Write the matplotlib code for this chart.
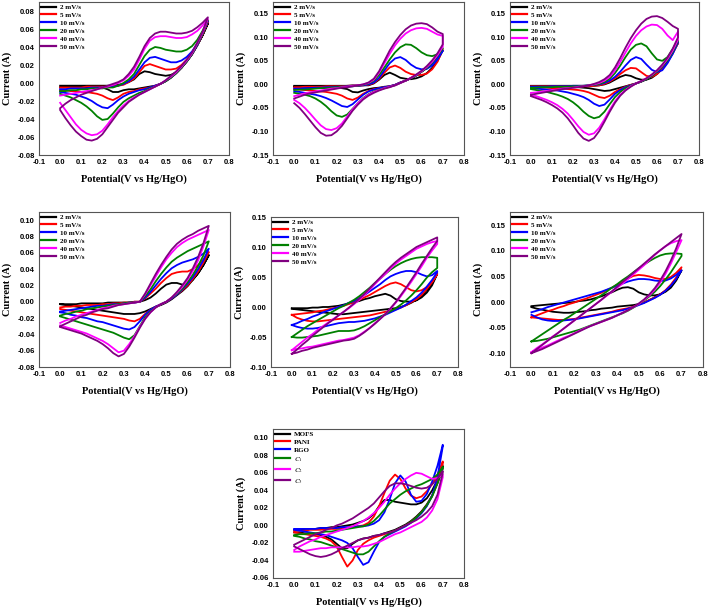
import matplotlib
matplotlib.use("Agg")
import matplotlib.pyplot as plt
from matplotlib.ticker import FormatStrFormatter

plt.rcParams['mathtext.fontset'] = 'stix'

# potential grid (V vs Hg/HgO), forward scan; reverse scan uses same grid
E = [0.000, 0.025, 0.050, 0.075, 0.100, 0.125, 0.150, 0.175, 0.200, 0.225,
     0.250, 0.275, 0.300, 0.325, 0.350, 0.375, 0.400, 0.425, 0.450, 0.475,
     0.500, 0.525, 0.550, 0.575, 0.600, 0.625, 0.650, 0.675, 0.700]

rate_labels = ['2 mV/s', '5 mV/s', '10 mV/s', '20 mV/s', '40 mV/s', '50 mV/s']
comp_labels = ['MOFS', 'PANI', 'RGO', r'$C_1$', r'$C_2$', r'$C_3$']
colors = ['#000000', '#ff0000', '#0000ff', '#008000', '#ff00ff', '#800080']

# ---------------- panel a ----------------
a1_up = [-0.003,-0.003,-0.003,-0.003,-0.003,-0.003,-0.003,-0.003,-0.003,-0.003,-0.003,-0.002,-0.001,0.001,0.004,0.010,0.013,0.012,0.010,0.009,0.008,0.009,0.012,0.017,0.024,0.032,0.042,0.053,0.066]
a1_dn = [-0.005,-0.005,-0.005,-0.005,-0.005,-0.005,-0.005,-0.005,-0.005,-0.007,-0.010,-0.010,-0.008,-0.007,-0.007,-0.006,-0.005,-0.004,-0.003,-0.001,0.002,0.006,0.011,0.017,0.024,0.032,0.042,0.053,0.066]
a2_up = [-0.005,-0.005,-0.005,-0.005,-0.005,-0.004,-0.004,-0.004,-0.004,-0.004,-0.003,-0.003,-0.002,0.001,0.005,0.012,0.019,0.021,0.019,0.017,0.015,0.015,0.016,0.020,0.026,0.033,0.043,0.055,0.068]
a2_dn = [-0.008,-0.008,-0.009,-0.009,-0.010,-0.010,-0.011,-0.012,-0.014,-0.017,-0.019,-0.016,-0.012,-0.010,-0.009,-0.007,-0.006,-0.005,-0.003,-0.001,0.002,0.006,0.011,0.017,0.024,0.032,0.042,0.054,0.068]
a3_up = [-0.007,-0.007,-0.006,-0.006,-0.006,-0.006,-0.005,-0.005,-0.005,-0.004,-0.004,-0.003,-0.001,0.002,0.007,0.015,0.023,0.028,0.029,0.027,0.025,0.023,0.023,0.025,0.029,0.035,0.044,0.056,0.069]
a3_dn = [-0.010,-0.011,-0.012,-0.013,-0.015,-0.017,-0.020,-0.024,-0.027,-0.028,-0.024,-0.019,-0.015,-0.012,-0.010,-0.008,-0.007,-0.005,-0.003,-0.001,0.002,0.006,0.011,0.017,0.024,0.032,0.042,0.055,0.069]
a4_up = [-0.009,-0.009,-0.008,-0.008,-0.007,-0.007,-0.006,-0.006,-0.006,-0.005,-0.005,-0.003,0.000,0.004,0.010,0.020,0.030,0.037,0.040,0.039,0.037,0.036,0.035,0.035,0.037,0.041,0.048,0.058,0.070]
a4_dn = [-0.012,-0.014,-0.016,-0.019,-0.022,-0.026,-0.031,-0.037,-0.041,-0.040,-0.034,-0.027,-0.021,-0.017,-0.014,-0.011,-0.009,-0.006,-0.004,-0.001,0.002,0.006,0.011,0.017,0.024,0.032,0.043,0.055,0.070]
a5_up = [-0.014,-0.013,-0.012,-0.011,-0.010,-0.009,-0.008,-0.007,-0.005,-0.004,-0.002,0.000,0.003,0.008,0.015,0.026,0.038,0.047,0.051,0.052,0.052,0.051,0.050,0.050,0.051,0.054,0.058,0.064,0.071]
a5_dn = [-0.022,-0.030,-0.038,-0.046,-0.052,-0.056,-0.058,-0.057,-0.053,-0.046,-0.038,-0.031,-0.025,-0.020,-0.016,-0.013,-0.010,-0.007,-0.004,-0.001,0.003,0.007,0.012,0.018,0.025,0.033,0.044,0.056,0.071]
a6_up = [-0.028,-0.023,-0.019,-0.016,-0.013,-0.011,-0.009,-0.007,-0.005,-0.003,-0.001,0.001,0.004,0.010,0.018,0.029,0.041,0.050,0.055,0.057,0.057,0.056,0.055,0.055,0.056,0.058,0.062,0.067,0.073]
a6_dn = [-0.030,-0.039,-0.047,-0.054,-0.059,-0.063,-0.064,-0.062,-0.057,-0.049,-0.041,-0.033,-0.027,-0.021,-0.017,-0.013,-0.010,-0.007,-0.004,-0.001,0.003,0.008,0.013,0.019,0.026,0.034,0.045,0.057,0.073]

# ---------------- panel b ----------------
b1_up = [-0.003,-0.003,-0.003,-0.003,-0.003,-0.003,-0.003,-0.003,-0.003,-0.003,-0.003,-0.002,-0.002,-0.002,-0.002,0.002,0.010,0.020,0.025,0.020,0.014,0.012,0.011,0.013,0.017,0.024,0.035,0.050,0.072]
b1_dn = [-0.005,-0.005,-0.005,-0.006,-0.006,-0.006,-0.006,-0.007,-0.007,-0.008,-0.010,-0.016,-0.017,-0.013,-0.010,-0.008,-0.007,-0.005,-0.004,-0.001,0.004,0.008,0.013,0.019,0.027,0.035,0.045,0.057,0.072]
b2_up = [-0.006,-0.006,-0.005,-0.005,-0.005,-0.005,-0.004,-0.004,-0.004,-0.004,-0.003,-0.003,-0.003,-0.002,-0.001,0.003,0.012,0.025,0.036,0.040,0.035,0.027,0.022,0.020,0.020,0.023,0.032,0.048,0.074]
b2_dn = [-0.010,-0.011,-0.012,-0.013,-0.014,-0.015,-0.016,-0.018,-0.020,-0.024,-0.030,-0.033,-0.028,-0.020,-0.014,-0.010,-0.008,-0.006,-0.004,-0.001,0.004,0.008,0.013,0.019,0.027,0.035,0.045,0.058,0.074]
b3_up = [-0.009,-0.009,-0.008,-0.008,-0.007,-0.007,-0.006,-0.006,-0.005,-0.005,-0.004,-0.004,-0.003,-0.002,0.000,0.004,0.014,0.030,0.045,0.055,0.058,0.052,0.042,0.035,0.032,0.033,0.040,0.053,0.072]
b3_dn = [-0.015,-0.016,-0.018,-0.020,-0.022,-0.025,-0.029,-0.034,-0.040,-0.046,-0.048,-0.042,-0.032,-0.022,-0.015,-0.011,-0.008,-0.006,-0.004,-0.001,0.004,0.008,0.013,0.019,0.027,0.035,0.045,0.057,0.072]
b4_up = [-0.012,-0.011,-0.011,-0.010,-0.009,-0.008,-0.008,-0.007,-0.006,-0.005,-0.005,-0.004,-0.003,-0.001,0.002,0.008,0.020,0.036,0.053,0.068,0.079,0.085,0.084,0.077,0.068,0.062,0.060,0.064,0.077]
b4_dn = [-0.018,-0.020,-0.022,-0.025,-0.030,-0.037,-0.046,-0.057,-0.066,-0.069,-0.064,-0.052,-0.040,-0.029,-0.021,-0.015,-0.011,-0.008,-0.005,-0.002,0.003,0.008,0.013,0.019,0.027,0.035,0.046,0.060,0.077]
b5_up = [-0.025,-0.022,-0.019,-0.017,-0.015,-0.013,-0.011,-0.009,-0.008,-0.006,-0.005,-0.003,-0.002,0.000,0.003,0.010,0.025,0.045,0.065,0.083,0.097,0.108,0.115,0.119,0.120,0.118,0.112,0.106,0.103]
b5_dn = [-0.033,-0.040,-0.050,-0.062,-0.075,-0.087,-0.095,-0.097,-0.093,-0.083,-0.068,-0.053,-0.040,-0.030,-0.022,-0.016,-0.012,-0.008,-0.005,-0.002,0.003,0.008,0.014,0.020,0.028,0.037,0.048,0.062,0.080]
b6_up = [-0.030,-0.026,-0.022,-0.019,-0.017,-0.015,-0.013,-0.011,-0.009,-0.007,-0.006,-0.004,-0.002,0.000,0.004,0.012,0.028,0.050,0.072,0.090,0.105,0.117,0.125,0.129,0.130,0.128,0.121,0.112,0.107]
b6_dn = [-0.040,-0.050,-0.063,-0.077,-0.091,-0.103,-0.109,-0.108,-0.100,-0.088,-0.072,-0.056,-0.043,-0.032,-0.024,-0.018,-0.013,-0.009,-0.006,-0.002,0.003,0.008,0.014,0.021,0.029,0.039,0.051,0.066,0.085]

# ---------------- panel c ----------------
c1_up = [-0.003,-0.003,-0.003,-0.003,-0.003,-0.003,-0.003,-0.003,-0.003,-0.003,-0.003,-0.003,-0.003,-0.002,0.000,0.004,0.010,0.016,0.020,0.018,0.013,0.010,0.010,0.014,0.022,0.033,0.048,0.066,0.088]
c1_dn = [-0.004,-0.004,-0.004,-0.004,-0.005,-0.005,-0.005,-0.005,-0.006,-0.006,-0.007,-0.008,-0.010,-0.012,-0.014,-0.013,-0.010,-0.007,-0.004,-0.001,0.002,0.006,0.011,0.018,0.027,0.038,0.051,0.068,0.088]
c2_up = [-0.004,-0.004,-0.004,-0.004,-0.004,-0.004,-0.004,-0.004,-0.004,-0.004,-0.004,-0.004,-0.003,-0.002,0.001,0.006,0.013,0.022,0.030,0.035,0.034,0.026,0.018,0.016,0.022,0.033,0.048,0.066,0.088]
c2_dn = [-0.006,-0.006,-0.007,-0.007,-0.008,-0.008,-0.009,-0.010,-0.011,-0.012,-0.014,-0.017,-0.022,-0.027,-0.029,-0.024,-0.016,-0.010,-0.005,-0.001,0.002,0.006,0.011,0.018,0.027,0.038,0.051,0.068,0.088]
c3_up = [-0.005,-0.005,-0.005,-0.005,-0.004,-0.004,-0.004,-0.004,-0.003,-0.003,-0.003,-0.002,-0.001,0.000,0.003,0.008,0.016,0.027,0.040,0.052,0.058,0.054,0.042,0.031,0.026,0.030,0.045,0.065,0.090]
c3_dn = [-0.008,-0.009,-0.010,-0.011,-0.012,-0.013,-0.015,-0.017,-0.020,-0.023,-0.027,-0.033,-0.041,-0.046,-0.043,-0.032,-0.020,-0.012,-0.006,-0.002,0.002,0.006,0.011,0.018,0.027,0.038,0.051,0.068,0.090]
c4_up = [-0.007,-0.007,-0.006,-0.006,-0.006,-0.005,-0.005,-0.005,-0.004,-0.004,-0.003,-0.002,-0.001,0.001,0.005,0.012,0.024,0.040,0.058,0.074,0.084,0.087,0.081,0.066,0.053,0.050,0.058,0.075,0.095]
c4_dn = [-0.010,-0.012,-0.014,-0.016,-0.019,-0.022,-0.026,-0.031,-0.038,-0.047,-0.058,-0.067,-0.072,-0.069,-0.058,-0.042,-0.027,-0.016,-0.008,-0.003,0.002,0.006,0.011,0.018,0.027,0.038,0.051,0.069,0.092]
c5_up = [-0.018,-0.017,-0.015,-0.014,-0.012,-0.011,-0.009,-0.008,-0.007,-0.005,-0.004,-0.002,0.000,0.003,0.008,0.016,0.030,0.048,0.068,0.087,0.103,0.115,0.123,0.127,0.126,0.118,0.104,0.094,0.112]
c5_dn = [-0.022,-0.025,-0.029,-0.033,-0.038,-0.044,-0.052,-0.062,-0.075,-0.089,-0.101,-0.107,-0.104,-0.092,-0.074,-0.054,-0.036,-0.022,-0.012,-0.004,0.002,0.007,0.013,0.020,0.029,0.040,0.054,0.072,0.095]
c6_up = [-0.022,-0.020,-0.018,-0.016,-0.014,-0.012,-0.010,-0.009,-0.007,-0.006,-0.004,-0.002,0.001,0.005,0.011,0.020,0.036,0.056,0.078,0.098,0.115,0.129,0.139,0.144,0.145,0.141,0.133,0.124,0.118]
c6_dn = [-0.025,-0.029,-0.033,-0.038,-0.044,-0.051,-0.060,-0.072,-0.087,-0.103,-0.115,-0.120,-0.114,-0.099,-0.079,-0.058,-0.039,-0.024,-0.013,-0.005,0.002,0.007,0.013,0.021,0.030,0.042,0.057,0.076,0.100]

# ---------------- panel d ----------------
d1_up = [-0.003,-0.003,-0.003,-0.003,-0.002,-0.002,-0.002,-0.002,-0.002,-0.001,-0.001,-0.001,-0.001,-0.001,0.000,0.000,0.002,0.005,0.010,0.016,0.021,0.023,0.023,0.021,0.022,0.027,0.035,0.045,0.057]
d1_dn = [-0.003,-0.004,-0.005,-0.006,-0.007,-0.008,-0.009,-0.010,-0.011,-0.012,-0.013,-0.014,-0.015,-0.015,-0.015,-0.014,-0.012,-0.009,-0.006,-0.004,-0.001,0.003,0.008,0.013,0.019,0.027,0.035,0.045,0.057]
d2_up = [-0.007,-0.006,-0.006,-0.005,-0.005,-0.004,-0.004,-0.004,-0.003,-0.003,-0.002,-0.002,-0.001,-0.001,0.000,0.000,0.004,0.010,0.016,0.023,0.029,0.034,0.036,0.037,0.037,0.040,0.045,0.052,0.061]
d2_dn = [-0.009,-0.010,-0.011,-0.012,-0.013,-0.014,-0.015,-0.016,-0.017,-0.018,-0.019,-0.020,-0.021,-0.023,-0.024,-0.021,-0.015,-0.010,-0.006,-0.003,0.000,0.004,0.009,0.014,0.020,0.028,0.037,0.048,0.061]
d3_up = [-0.012,-0.011,-0.010,-0.009,-0.008,-0.007,-0.006,-0.005,-0.005,-0.004,-0.003,-0.003,-0.002,-0.001,-0.001,0.000,0.005,0.012,0.020,0.028,0.035,0.041,0.045,0.048,0.050,0.052,0.055,0.059,0.065]
d3_dn = [-0.013,-0.014,-0.016,-0.017,-0.019,-0.020,-0.022,-0.024,-0.025,-0.027,-0.029,-0.031,-0.033,-0.034,-0.031,-0.024,-0.016,-0.010,-0.006,-0.003,0.000,0.004,0.009,0.015,0.022,0.030,0.040,0.051,0.065]
d4_up = [-0.017,-0.015,-0.014,-0.012,-0.011,-0.009,-0.008,-0.007,-0.006,-0.005,-0.004,-0.003,-0.002,-0.001,-0.001,0.000,0.007,0.015,0.025,0.034,0.042,0.049,0.054,0.058,0.062,0.065,0.068,0.071,0.074]
d4_dn = [-0.018,-0.020,-0.022,-0.024,-0.026,-0.028,-0.030,-0.032,-0.034,-0.036,-0.038,-0.041,-0.044,-0.046,-0.041,-0.030,-0.019,-0.012,-0.007,-0.003,0.000,0.005,0.010,0.016,0.024,0.033,0.044,0.057,0.074]
d5_up = [-0.026,-0.023,-0.021,-0.018,-0.016,-0.014,-0.012,-0.010,-0.008,-0.007,-0.005,-0.004,-0.003,-0.002,-0.001,0.000,0.009,0.020,0.031,0.042,0.052,0.060,0.067,0.072,0.076,0.079,0.082,0.085,0.088]
d5_dn = [-0.029,-0.031,-0.033,-0.035,-0.037,-0.039,-0.042,-0.045,-0.048,-0.052,-0.057,-0.062,-0.060,-0.052,-0.042,-0.031,-0.021,-0.013,-0.007,-0.003,0.000,0.005,0.011,0.018,0.027,0.038,0.051,0.068,0.088]
d6_up = [-0.030,-0.027,-0.024,-0.021,-0.018,-0.016,-0.013,-0.011,-0.009,-0.008,-0.006,-0.004,-0.003,-0.002,-0.001,0.000,0.010,0.022,0.034,0.045,0.055,0.064,0.071,0.076,0.080,0.083,0.087,0.090,0.093]
d6_dn = [-0.031,-0.033,-0.035,-0.037,-0.039,-0.042,-0.045,-0.048,-0.052,-0.057,-0.063,-0.067,-0.064,-0.055,-0.044,-0.032,-0.021,-0.013,-0.007,-0.003,0.000,0.005,0.012,0.020,0.029,0.041,0.055,0.072,0.093]

# ---------------- panel e ----------------
e1_up = [-0.002,-0.002,-0.002,-0.002,-0.001,-0.001,0.000,0.000,0.001,0.002,0.004,0.006,0.008,0.010,0.013,0.015,0.018,0.020,0.022,0.019,0.013,0.010,0.009,0.009,0.011,0.016,0.024,0.036,0.055]
e1_dn = [-0.003,-0.004,-0.005,-0.006,-0.007,-0.008,-0.009,-0.010,-0.011,-0.012,-0.012,-0.011,-0.010,-0.009,-0.008,-0.007,-0.006,-0.005,-0.004,-0.003,-0.002,0.000,0.003,0.007,0.012,0.019,0.029,0.040,0.055]
e2_up = [-0.013,-0.012,-0.011,-0.010,-0.009,-0.007,-0.006,-0.004,-0.002,0.000,0.002,0.005,0.008,0.012,0.016,0.020,0.025,0.030,0.035,0.039,0.041,0.038,0.033,0.028,0.026,0.028,0.033,0.042,0.055]
e2_dn = [-0.013,-0.018,-0.021,-0.023,-0.024,-0.024,-0.023,-0.022,-0.021,-0.020,-0.019,-0.018,-0.017,-0.016,-0.015,-0.014,-0.012,-0.010,-0.008,-0.006,-0.004,-0.001,0.003,0.008,0.013,0.020,0.030,0.041,0.055]
e3_up = [-0.030,-0.027,-0.023,-0.020,-0.016,-0.013,-0.009,-0.006,-0.003,0.000,0.003,0.007,0.010,0.015,0.020,0.026,0.032,0.038,0.045,0.051,0.055,0.058,0.060,0.060,0.058,0.054,0.051,0.053,0.060]
e3_dn = [-0.030,-0.033,-0.035,-0.036,-0.036,-0.035,-0.033,-0.031,-0.029,-0.027,-0.026,-0.025,-0.025,-0.024,-0.023,-0.021,-0.019,-0.016,-0.013,-0.009,-0.005,-0.001,0.004,0.010,0.016,0.024,0.034,0.045,0.058]
e4_up = [-0.050,-0.044,-0.038,-0.032,-0.027,-0.022,-0.017,-0.012,-0.007,-0.002,0.002,0.007,0.012,0.018,0.025,0.032,0.040,0.047,0.055,0.062,0.068,0.073,0.077,0.080,0.082,0.083,0.083,0.083,0.082]
e4_dn = [-0.050,-0.051,-0.051,-0.050,-0.049,-0.048,-0.046,-0.044,-0.042,-0.040,-0.040,-0.040,-0.039,-0.036,-0.032,-0.027,-0.022,-0.017,-0.012,-0.007,-0.002,0.004,0.011,0.019,0.028,0.038,0.049,0.058,0.065]
e5_up = [-0.072,-0.065,-0.058,-0.051,-0.045,-0.038,-0.032,-0.026,-0.020,-0.014,-0.008,-0.002,0.005,0.012,0.020,0.029,0.038,0.047,0.055,0.064,0.072,0.079,0.085,0.091,0.097,0.101,0.105,0.108,0.110]
e5_dn = [-0.072,-0.070,-0.069,-0.067,-0.066,-0.064,-0.062,-0.060,-0.058,-0.056,-0.055,-0.053,-0.051,-0.047,-0.041,-0.035,-0.027,-0.020,-0.012,-0.003,0.007,0.018,0.030,0.042,0.055,0.068,0.082,0.094,0.105]
e6_up = [-0.078,-0.071,-0.063,-0.056,-0.048,-0.041,-0.034,-0.027,-0.021,-0.014,-0.008,-0.001,0.006,0.014,0.022,0.031,0.040,0.049,0.058,0.067,0.075,0.082,0.088,0.094,0.100,0.104,0.108,0.112,0.116]
e6_dn = [-0.078,-0.076,-0.073,-0.071,-0.068,-0.066,-0.064,-0.062,-0.060,-0.058,-0.056,-0.055,-0.053,-0.048,-0.042,-0.035,-0.028,-0.020,-0.012,-0.002,0.008,0.020,0.032,0.045,0.058,0.072,0.085,0.098,0.110]

# ---------------- panel f ----------------
f1_up = [-0.008,-0.007,-0.006,-0.005,-0.004,-0.003,-0.002,-0.001,0.000,0.002,0.003,0.005,0.008,0.011,0.015,0.019,0.024,0.028,0.029,0.026,0.019,0.015,0.013,0.013,0.015,0.020,0.028,0.042,0.062]
f1_dn = [-0.010,-0.013,-0.015,-0.017,-0.019,-0.020,-0.021,-0.021,-0.020,-0.019,-0.018,-0.016,-0.015,-0.013,-0.012,-0.011,-0.009,-0.008,-0.007,-0.006,-0.004,-0.001,0.004,0.009,0.015,0.022,0.032,0.045,0.062]
f2_up = [-0.030,-0.026,-0.022,-0.018,-0.015,-0.011,-0.008,-0.004,-0.001,0.003,0.006,0.010,0.014,0.018,0.023,0.028,0.034,0.040,0.046,0.051,0.053,0.052,0.050,0.047,0.045,0.045,0.049,0.057,0.068]
f2_dn = [-0.030,-0.031,-0.032,-0.033,-0.034,-0.035,-0.035,-0.034,-0.033,-0.031,-0.029,-0.027,-0.025,-0.023,-0.021,-0.019,-0.016,-0.014,-0.012,-0.009,-0.005,-0.001,0.004,0.009,0.015,0.023,0.034,0.048,0.068]
f3_up = [-0.020,-0.017,-0.014,-0.010,-0.007,-0.004,-0.001,0.002,0.005,0.008,0.011,0.014,0.017,0.020,0.024,0.028,0.032,0.036,0.040,0.043,0.045,0.045,0.044,0.042,0.041,0.042,0.046,0.053,0.062]
f3_dn = [-0.025,-0.030,-0.034,-0.036,-0.037,-0.037,-0.036,-0.035,-0.034,-0.032,-0.030,-0.028,-0.026,-0.024,-0.022,-0.020,-0.018,-0.016,-0.013,-0.010,-0.006,-0.002,0.003,0.008,0.014,0.022,0.032,0.045,0.062]
f4_up = [-0.077,-0.070,-0.063,-0.056,-0.049,-0.042,-0.035,-0.029,-0.022,-0.015,-0.008,-0.001,0.006,0.013,0.020,0.028,0.035,0.043,0.050,0.058,0.066,0.073,0.080,0.086,0.091,0.094,0.095,0.095,0.094]
f4_dn = [-0.077,-0.076,-0.074,-0.072,-0.069,-0.066,-0.063,-0.060,-0.057,-0.054,-0.050,-0.046,-0.042,-0.038,-0.034,-0.030,-0.026,-0.022,-0.017,-0.011,-0.004,0.003,0.011,0.020,0.031,0.044,0.058,0.074,0.090]
f5_up = [-0.098,-0.090,-0.083,-0.075,-0.067,-0.060,-0.052,-0.044,-0.036,-0.028,-0.020,-0.012,-0.004,0.004,0.012,0.020,0.028,0.036,0.045,0.054,0.063,0.072,0.082,0.092,0.101,0.109,0.115,0.119,0.121]
f5_dn = [-0.098,-0.094,-0.089,-0.085,-0.080,-0.075,-0.070,-0.066,-0.061,-0.056,-0.051,-0.047,-0.043,-0.039,-0.035,-0.031,-0.026,-0.021,-0.016,-0.010,-0.004,0.004,0.013,0.024,0.038,0.055,0.075,0.098,0.121]
f6_up = [-0.100,-0.092,-0.084,-0.076,-0.068,-0.060,-0.052,-0.044,-0.036,-0.028,-0.020,-0.012,-0.004,0.004,0.013,0.021,0.030,0.039,0.048,0.057,0.066,0.075,0.084,0.093,0.101,0.109,0.117,0.125,0.133]
f6_dn = [-0.100,-0.096,-0.092,-0.087,-0.082,-0.077,-0.072,-0.067,-0.062,-0.057,-0.052,-0.047,-0.043,-0.039,-0.035,-0.031,-0.026,-0.021,-0.016,-0.010,-0.003,0.005,0.015,0.027,0.042,0.060,0.081,0.105,0.133]

# ---------------- panel g (comparison) ----------------
g1_up = [-0.005,-0.005,-0.004,-0.004,-0.004,-0.003,-0.003,-0.002,-0.002,-0.001,0.000,0.001,0.003,0.005,0.008,0.013,0.022,0.029,0.029,0.027,0.026,0.025,0.024,0.024,0.026,0.031,0.040,0.052,0.068]
g1_dn = [-0.008,-0.008,-0.009,-0.009,-0.010,-0.011,-0.013,-0.016,-0.021,-0.026,-0.026,-0.021,-0.017,-0.015,-0.014,-0.012,-0.011,-0.009,-0.007,-0.005,-0.002,0.001,0.005,0.010,0.016,0.024,0.034,0.048,0.065]
g2_up = [-0.006,-0.006,-0.006,-0.005,-0.005,-0.005,-0.004,-0.004,-0.004,-0.003,-0.003,-0.002,-0.001,0.000,0.003,0.010,0.022,0.037,0.051,0.058,0.053,0.042,0.034,0.031,0.033,0.039,0.047,0.058,0.073]
g2_dn = [-0.008,-0.009,-0.010,-0.011,-0.012,-0.013,-0.015,-0.018,-0.024,-0.036,-0.047,-0.040,-0.028,-0.021,-0.017,-0.014,-0.012,-0.010,-0.008,-0.006,-0.003,0.000,0.004,0.009,0.015,0.023,0.034,0.050,0.070]
g3_up = [-0.004,-0.004,-0.004,-0.004,-0.004,-0.003,-0.003,-0.003,-0.003,-0.002,-0.002,-0.002,-0.001,-0.001,0.000,0.002,0.006,0.015,0.030,0.048,0.057,0.050,0.035,0.027,0.028,0.036,0.050,0.068,0.092]
g3_dn = [-0.005,-0.006,-0.007,-0.008,-0.009,-0.010,-0.011,-0.013,-0.015,-0.017,-0.020,-0.026,-0.036,-0.045,-0.042,-0.030,-0.019,-0.013,-0.010,-0.007,-0.004,-0.001,0.003,0.008,0.014,0.022,0.034,0.055,0.090]
g4_up = [-0.011,-0.010,-0.010,-0.009,-0.009,-0.008,-0.007,-0.007,-0.006,-0.005,-0.004,-0.003,-0.002,-0.001,0.001,0.005,0.011,0.018,0.025,0.030,0.035,0.039,0.042,0.045,0.047,0.050,0.053,0.058,0.067]
g4_dn = [-0.012,-0.013,-0.015,-0.016,-0.018,-0.019,-0.021,-0.023,-0.025,-0.027,-0.029,-0.031,-0.033,-0.033,-0.030,-0.024,-0.018,-0.013,-0.009,-0.006,-0.003,0.000,0.004,0.009,0.015,0.023,0.033,0.048,0.065]
g5_up = [-0.028,-0.024,-0.021,-0.018,-0.016,-0.013,-0.011,-0.009,-0.007,-0.005,-0.003,-0.001,0.002,0.005,0.009,0.014,0.020,0.027,0.035,0.042,0.048,0.053,0.057,0.060,0.059,0.056,0.053,0.054,0.058]
g5_dn = [-0.030,-0.030,-0.029,-0.028,-0.027,-0.026,-0.026,-0.025,-0.025,-0.025,-0.025,-0.025,-0.024,-0.024,-0.023,-0.021,-0.019,-0.016,-0.013,-0.010,-0.008,-0.005,-0.002,0.001,0.004,0.009,0.017,0.030,0.055]
g6_up = [-0.022,-0.019,-0.016,-0.013,-0.010,-0.008,-0.005,-0.003,0.000,0.002,0.005,0.008,0.012,0.016,0.020,0.025,0.032,0.039,0.045,0.048,0.048,0.047,0.045,0.043,0.042,0.043,0.047,0.053,0.062]
g6_dn = [-0.024,-0.027,-0.030,-0.033,-0.035,-0.036,-0.035,-0.033,-0.030,-0.026,-0.023,-0.020,-0.017,-0.015,-0.014,-0.012,-0.011,-0.009,-0.008,-0.006,-0.003,0.000,0.003,0.006,0.010,0.015,0.022,0.035,0.060]

x_ticks = [-0.1, 0.0, 0.1, 0.2, 0.3, 0.4, 0.5, 0.6, 0.7, 0.8]

W, H = 709, 607
fig = plt.figure(figsize=(W / 100, H / 100), dpi=100)

TICK_FONT = dict(family='Liberation Sans', weight='bold', size=5.5)
LABEL_FONT = dict(family='Liberation Serif', weight='bold', size=7.5)
LEG_FONT = dict(family='Liberation Serif', weight='bold', size=5)


def make_ax(left, right, top, bottom):
    return fig.add_axes([left / W, 1 - bottom / H, (right - left) / W, (bottom - top) / H])


def draw(ax, ups, dns, labels, ylim, yticks):
    for up, dn, c, lab in zip(ups, dns, colors, labels):
        xs = E + E[::-1]
        ys = up + dn[::-1]
        ax.plot(xs, ys, color=c, lw=1.3, label=lab, solid_joinstyle='round')
    ax.set_xlim(-0.1, 0.8)
    ax.set_ylim(*ylim)
    ax.set_xticks(x_ticks)
    ax.set_yticks(yticks)
    ax.xaxis.set_major_formatter(FormatStrFormatter('%.1f'))
    ax.yaxis.set_major_formatter(FormatStrFormatter('%.2f'))
    ax.tick_params(length=0, pad=3)
    for lab in ax.get_xticklabels() + ax.get_yticklabels():
        lab.set_fontfamily(TICK_FONT['family'])
        lab.set_fontweight('bold')
        lab.set_fontsize(TICK_FONT['size'])
    for sp in ax.spines.values():
        sp.set_color('#555555')
        sp.set_linewidth(0.8)
    ax.set_ylabel('Current (A)', fontdict=LABEL_FONT, labelpad=4)
    ax.set_xlabel('Potential(V vs Hg/HgO)', fontdict=LABEL_FONT, labelpad=6)
    leg = ax.legend(loc='upper left', frameon=False, prop=LEG_FONT,
                    handlelength=2.2, handletextpad=0.5, labelspacing=0.3,
                    borderaxespad=0.1, borderpad=0.2)
    for h in leg.get_lines():
        h.set_linewidth(1.6)


def ticks(lo, hi, step):
    n = int(round((hi - lo) / step))
    return [round(lo + i * step, 3) for i in range(n + 1)]


axA = make_ax(39, 229, 2, 155)
draw(axA, [a1_up, a2_up, a3_up, a4_up, a5_up, a6_up],
     [a1_dn, a2_dn, a3_dn, a4_dn, a5_dn, a6_dn], rate_labels,
     (-0.08, 0.09), ticks(-0.08, 0.08, 0.02))

axB = make_ax(273, 464, 2, 155)
draw(axB, [b1_up, b2_up, b3_up, b4_up, b5_up, b6_up],
     [b1_dn, b2_dn, b3_dn, b4_dn, b5_dn, b6_dn], rate_labels,
     (-0.15, 0.175), ticks(-0.15, 0.15, 0.05))

axC = make_ax(510, 699, 2, 155)
draw(axC, [c1_up, c2_up, c3_up, c4_up, c5_up, c6_up],
     [c1_dn, c2_dn, c3_dn, c4_dn, c5_dn, c6_dn], rate_labels,
     (-0.15, 0.175), ticks(-0.15, 0.15, 0.05))

axD = make_ax(39, 230, 212, 367)
draw(axD, [d1_up, d2_up, d3_up, d4_up, d5_up, d6_up],
     [d1_dn, d2_dn, d3_dn, d4_dn, d5_dn, d6_dn], rate_labels,
     (-0.08, 0.11), ticks(-0.08, 0.10, 0.02))

axE = make_ax(271, 458, 217, 367)
draw(axE, [e1_up, e2_up, e3_up, e4_up, e5_up, e6_up],
     [e1_dn, e2_dn, e3_dn, e4_dn, e5_dn, e6_dn], rate_labels,
     (-0.10, 0.15), ticks(-0.10, 0.15, 0.05))

axF = make_ax(510, 703, 212, 367)
draw(axF, [f1_up, f2_up, f3_up, f4_up, f5_up, f6_up],
     [f1_dn, f2_dn, f3_dn, f4_dn, f5_dn, f6_dn], rate_labels,
     (-0.127, 0.176), ticks(-0.10, 0.15, 0.05))

axG = make_ax(273, 464, 429, 578)
draw(axG, [g1_up, g2_up, g3_up, g4_up, g5_up, g6_up],
     [g1_dn, g2_dn, g3_dn, g4_dn, g5_dn, g6_dn], comp_labels,
     (-0.06, 0.11), ticks(-0.06, 0.10, 0.02))

fig.savefig('out.png', dpi=100)
